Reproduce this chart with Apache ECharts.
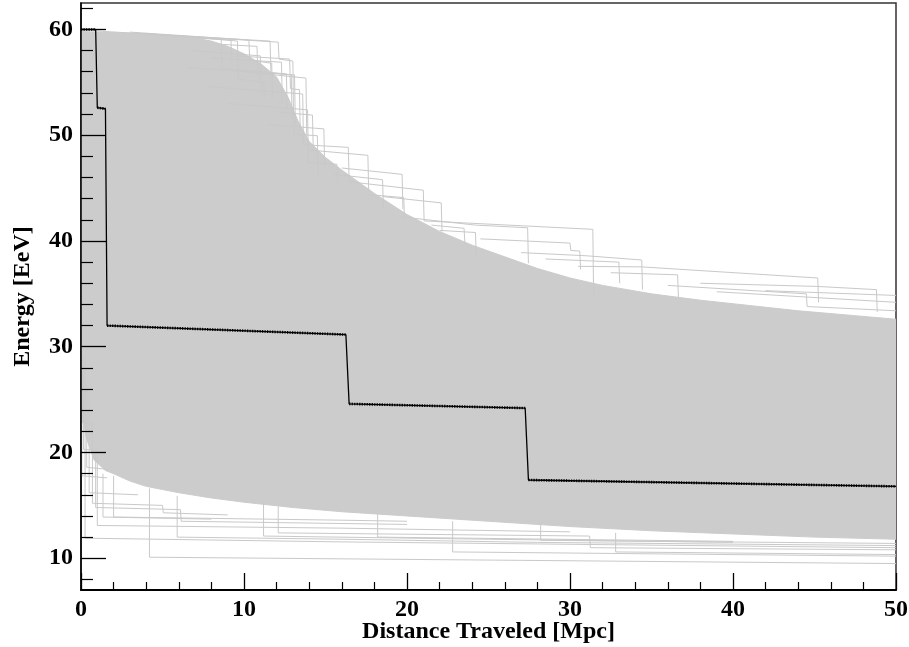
<!DOCTYPE html>
<html><head><meta charset="utf-8">
<script src="https://cdn.jsdelivr.net/npm/echarts/dist/echarts.min.js"></script>
<style>html,body{margin:0;padding:0;background:#fff}#c{width:909px;height:647px}</style>
</head><body><div id="c"></div>
<script>
// ---- data ----
const xTicks = [0, 10, 20, 30, 40, 50];
const yTicks = [10, 20, 30, 40, 50, 60];
const yMinorTicks = [8, 12, 14, 16, 18, 22, 24, 26, 28, 32, 34, 36, 38, 42, 44, 46, 48, 52, 54, 56, 58, 62];

// highlighted propagation track
const pathDistance = [0, 0.9, 1.0, 1.5, 1.6, 16.25, 16.45, 27.25, 27.45, 50];
const pathEnergy   = [60, 60, 52.6, 52.5, 32.0, 31.15, 24.6, 24.2, 17.4, 16.8];

// dense envelope of the simulated tracks
const bandTopX = [0, 2, 4, 6, 7, 8, 9, 10, 11, 12, 12.7, 13.3, 14, 15, 16, 17, 18, 19, 20, 22, 24, 26, 28, 30, 32, 35, 38, 41, 44, 47, 50];
const bandTopY = [59.8, 59.7, 59.6, 59.4, 59.2, 58.9, 58.4, 57.7, 56.8, 55.5, 53.6, 51.4, 49.4, 47.9, 46.7, 45.6, 44.5, 43.5, 42.5, 40.9, 39.6, 38.5, 37.4, 36.5, 35.8, 35.0, 34.4, 33.9, 33.4, 33.0, 32.6];
const bandBottomX = [0, 0.3, 0.8, 1.5, 2, 3, 4, 6, 8, 10, 13, 16, 20, 25, 30, 35, 40, 45, 50];
const bandBottomY = [25, 21.5, 19.3, 18.3, 18.0, 17.3, 16.8, 16.2, 15.7, 15.3, 14.8, 14.4, 14.0, 13.5, 13.0, 12.6, 12.3, 12.0, 11.8];

// individual tracks visible outside the dense envelope (upper side)
const upperTracks = [
  [[0,59.95],[12.1,58.8],[12.15,57.2],[13.0,57.0],[13.05,50.1],[14.5,49.95],[14.55,46.0]],
  [[3,59.75],[10.3,59.0],[10.35,57.1],[11.7,56.8],[11.75,53.5]],
  [[4,59.6],[8.6,59.1],[8.65,56.3],[12.6,55.8],[12.65,52.5]],
  [[5,59.5],[9.6,58.9],[9.65,55.3],[11.2,55.0],[11.25,53.5]],
  [[6,59.4],[11.6,58.9],[11.65,55.9],[12.9,55.7],[12.95,51.5]],
  [[6.8,58.0],[11.0,57.5],[11.05,54.0]],
  [[7,59.2],[9.2,59.0],[9.25,57.0]],
  [[8,57.3],[12.3,56.9],[12.35,53.0]],
  [[8.5,58.6],[10.8,58.4],[10.85,55.5]],
  [[6.5,56.4],[13.1,55.7],[13.15,51.0]],
  [[9.5,57.5],[12.8,57.2],[12.85,54.4],[13.4,54.3],[13.45,50.5]],
  [[10,56.0],[13.8,55.4],[13.85,50.0]],
  [[7.8,54.6],[13.6,53.9],[13.65,49.1],[16.4,48.85],[16.45,45.6],[21.0,44.8],[21.05,41.9],[31.4,41.1],[31.45,34.7]],
  [[9.0,53.0],[13.9,52.4],[13.95,47.4],[15.7,47.25],[15.75,45.5]],
  [[11.5,51.0],[14.9,50.6],[14.95,47.0]],
  [[12,52.2],[14.2,51.9],[14.25,48.6]],
  [[14,48.6],[17.6,48.1],[17.65,44.8]],
  [[15.5,46.3],[18.5,45.8],[18.55,43.2]],
  [[16,46.9],[19.7,46.3],[19.75,43.0]],
  [[17.5,44.4],[19.8,44.1],[19.85,42.0]],
  [[18.5,44.2],[22.1,43.6],[22.15,40.9]],
  [[19.5,42.3],[24.2,41.5],[27.4,41.25],[27.45,37.9]],
  [[22,41.0],[24.2,40.8],[24.25,38.5]],
  [[21.5,41.5],[23.5,41.2],[23.55,39.8]],
  [[24.5,40.2],[30.0,39.8],[30.05,39.1],[30.6,39.05],[30.65,37.3]],
  [[27,38.9],[31.0,38.6],[34.4,38.2],[34.45,35.4]],
  [[28.5,38.3],[33.0,38.0],[33.05,36.0]],
  [[30.5,37.6],[34.4,37.55],[45.2,36.5],[45.25,34.2]],
  [[32.5,37.0],[36.6,36.8],[36.65,34.7]],
  [[38,36.0],[45.2,35.7],[48.8,35.4],[48.85,33.3]],
  [[42,35.3],[50,34.85]],
  [[36,35.8],[44.5,35.0],[44.55,33.8],[50,33.4]],
  [[39,35.2],[50,34.2]]
];
// individual tracks visible outside the dense envelope (lower side)
const lowerTracks = [
  [[0.25,29],[0.25,11.9],[15.9,11.55],[50,11.0]],
  [[4.2,16.6],[4.2,10.1],[50,9.5]],
  [[22.8,13.5],[22.8,10.6],[50,10.2]],
  [[32.8,12.4],[32.8,10.6],[50,10.35]],
  [[1.0,19.5],[1.0,13.1],[15.9,12.85],[30,12.5]],
  [[2.0,17.8],[2.0,13.9],[16,13.6],[20,13.5]],
  [[5.9,15.9],[5.9,12.0],[16,11.8],[28,11.5],[50,11.2]],
  [[11.2,15.3],[11.2,12.1],[25,11.8],[40,11.5]],
  [[12.1,14.9],[12.1,12.4],[31.2,12.1],[31.25,11.0],[50,10.8]],
  [[0.9,20],[0.9,14.8],[6.1,14.6],[6.15,13.5],[20,13.2]],
  [[18.2,14.3],[18.2,12.0],[40,11.6]],
  [[28.2,13.4],[28.2,11.7],[50,11.4]],
  [[0.05,29.5],[0.05,17.8],[1.6,17.6]],
  [[0.15,28],[0.15,20.3],[1.1,20.2]],
  [[0.35,26.5],[0.35,18.6],[1.7,18.4]],
  [[0.5,25],[0.5,16.2],[3.5,16.0]],
  [[0.7,23],[0.7,15.2],[5,15.0],[5.05,14.3],[9,14.1]],
  [[1.35,18],[1.35,13.9],[8,13.7]],
  [[0.1,28.8],[0.1,22.8],[0.75,22.7]]
];

// ---- chart ----
const GRAY = '#cccccc';
const FONT = 'Liberation Serif, Times New Roman, serif';
const labelStyle = {fontFamily: FONT, fontWeight: 'bold', fontSize: 24, color: '#000'};
const nameStyle = {fontFamily: FONT, fontWeight: 'bold', fontSize: 24, color: '#000'};

const series = [];
series.push({
  type: 'custom', coordinateSystem: 'cartesian2d', silent: true, clip: true, z: 1,
  data: [[bandTopX[0], bandTopY[0]]], encode: {x: 0, y: 1},
  renderItem: function (params, api) {
    if (params.dataIndex !== 0) return null;
    const pts = [];
    for (let i = 0; i < bandTopX.length; i++) pts.push(api.coord([bandTopX[i], bandTopY[i]]));
    for (let i = bandBottomX.length - 1; i >= 0; i--) pts.push(api.coord([bandBottomX[i], bandBottomY[i]]));
    return {type: 'polygon', shape: {points: pts}, style: {fill: GRAY, stroke: GRAY, lineWidth: 1}};
  }
});
upperTracks.concat(lowerTracks).forEach(function (t) {
  series.push({type: 'line', data: t, showSymbol: false, symbol: 'none', silent: true, z: 2,
    lineStyle: {color: '#c9c9c9', width: 1}});
});
series.push({
  type: 'line', data: pathDistance.map(function (d, i) { return [d, pathEnergy[i]]; }),
  showSymbol: false, symbol: 'none', silent: true, z: 5,
  lineStyle: {color: '#000', width: 1.3}
});
for (let i = 0; i < pathDistance.length - 1; i++) {
  if (pathDistance[i + 1] - pathDistance[i] > 0.3) {
    series.push({
      type: 'line', data: [[pathDistance[i], pathEnergy[i]], [pathDistance[i + 1], pathEnergy[i + 1]]],
      showSymbol: false, symbol: 'none', silent: true, z: 6,
      lineStyle: {color: '#000', width: 2.6, type: [1.3, 1.2]}
    });
  }
}

const gridBox = {left: 81, right: 13, top: 3, bottom: 57, containLabel: false, outerBoundsMode: 'none'};
const chart = echarts.init(document.getElementById('c'), null, {renderer: 'canvas'});
chart.setOption({
  animation: false,
  backgroundColor: '#fff',
  grid: [
    Object.assign({show: true, borderColor: '#333', borderWidth: 1.5, backgroundColor: 'transparent'}, gridBox),
    Object.assign({show: false}, gridBox)
  ],
  xAxis: [{
    type: 'value', min: 0, max: 50, interval: 10, z: 10, gridIndex: 0,
    axisLine: {show: true, onZero: false, lineStyle: {color: '#000', width: 2}},
    axisTick: {show: true, inside: true, length: 17, lineStyle: {color: '#000', width: 1.3}},
    minorTick: {show: true, splitNumber: 5, length: 8, lineStyle: {color: '#000', width: 1.2}},
    axisLabel: Object.assign({margin: 8, customValues: xTicks}, labelStyle),
    splitLine: {show: false},
    name: 'Distance Traveled [Mpc]', nameLocation: 'middle', nameGap: 30, nameMoveOverlap: false, nameTextStyle: nameStyle
  }, {
    type: 'value', min: 0, max: 50, gridIndex: 1, show: false
  }],
  yAxis: [{
    type: 'value', min: 7, max: 62.5, z: 10, position: 'left', gridIndex: 0,
    axisLine: {show: true, onZero: false, lineStyle: {color: '#000', width: 1.5}},
    axisTick: {show: true, inside: true, length: 25, customValues: yTicks, lineStyle: {color: '#000', width: 1.3}},
    axisLabel: Object.assign({margin: 8, customValues: yTicks}, labelStyle),
    splitLine: {show: false},
    name: 'Energy [EeV]', nameLocation: 'middle', nameRotate: 90, nameGap: 46, nameTextStyle: nameStyle
  }, {
    type: 'value', min: 7, max: 62.5, z: 10, position: 'left', gridIndex: 1,
    axisLine: {show: false},
    axisTick: {show: true, inside: true, length: 12, customValues: yMinorTicks, lineStyle: {color: '#000', width: 1.2}},
    axisLabel: {show: false},
    splitLine: {show: false}
  }],
  series: series
});
</script></body></html>
